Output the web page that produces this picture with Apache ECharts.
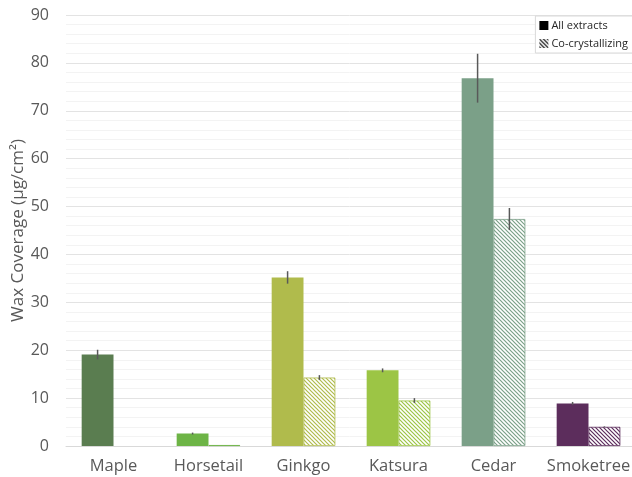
<!DOCTYPE html>
<html>
<head>
<meta charset="utf-8">
<script src="https://cdn.jsdelivr.net/npm/echarts@6/dist/echarts.min.js"></script>
<style>
  html, body { margin: 0; padding: 0; background: #ffffff; }
  #chart { width: 632px; height: 477px; }
</style>
</head>
<body>
<div id="chart"></div>
<script>
// Wax coverage per species: total extracts vs. co-crystallizing fraction
const categories = ['Maple', 'Horsetail', 'Ginkgo', 'Katsura', 'Cedar', 'Smoketree'];
const allExtracts = [19.1, 2.6, 35.2, 15.8, 76.8, 8.9];
const allErr = [1.0, 0.2, 1.3, 0.4, 5.1, 0.3];
const coCrystal = [0, 0.2, 14.3, 9.5, 47.4, 4.0];
const coErr = [0, 0, 0.5, 0.5, 2.3, 0.1];
const speciesColors = ['#5a7d50', '#6db446', '#b0bb4c', '#9cc545', '#7ba088', '#5c2d5c'];
const yTicks = [0, 10, 20, 30, 40, 50, 60, 70, 80, 90];

// diagonal stripe pattern ("\\\") in a given colour on white
function stripes(color) {
  const s = 4;
  const c = document.createElement('canvas');
  c.width = s; c.height = s;
  const g = c.getContext('2d');
  g.fillStyle = '#ffffff';
  g.fillRect(0, 0, s, s);
  g.strokeStyle = color;
  g.lineWidth = 1.2;
  g.beginPath();
  g.moveTo(-1, -1); g.lineTo(s + 1, s + 1);
  g.moveTo(-1, s - 1); g.lineTo(1, s + 1);
  g.moveTo(s - 1, -1); g.lineTo(s + 1, 1);
  g.stroke();
  return { image: c, repeat: 'repeat' };
}

const font = '"Open Sans", "DejaVu Sans", sans-serif';

function errorSeries(values, errs, offsetIdx) {
  return {
    type: 'custom',
    z: 10,
    silent: true,
    data: values.map((v, i) => [i, v, errs[i]]),
    renderItem: function (params, api) {
      const i = api.value(0);
      const v = api.value(1);
      const e = api.value(2);
      if (!e) return null;
      const band = api.size([1, 0])[0];
      const barW = band * 0.335;
      const cx = api.coord([i, v])[0] + (offsetIdx === 0 ? -barW / 2 : barW / 2);
      const top = api.coord([i, v + e])[1];
      const bot = api.coord([i, v - e])[1];
      return {
        type: 'line',
        shape: { x1: cx, y1: top, x2: cx, y2: bot },
        style: { stroke: '#595959', lineWidth: 1.5 }
      };
    }
  };
}

const chart = echarts.init(document.getElementById('chart'), null, { renderer: 'canvas' });
chart.setOption({
  animation: false,
  backgroundColor: '#ffffff',
  grid: { left: 66, top: 15, width: 570, bottom: 31, containLabel: false, outerBoundsMode: 'none' },
  legend: {
    right: -2, top: 16,
    orient: 'vertical',
    backgroundColor: '#ffffff',
    borderColor: '#d9d9d9',
    borderWidth: 1,
    padding: [4, 6, 4, 4],
    itemGap: 7,
    itemWidth: 9, itemHeight: 9,
    textStyle: { fontFamily: font, fontSize: 11, color: '#262626', padding: [0, 0, 0, -2] },
    data: [
      { name: 'All extracts', icon: 'rect' },
      { name: 'Co-crystallizing', icon: 'rect' }
    ]
  },
  xAxis: {
    type: 'category',
    data: categories,
    axisLine: { lineStyle: { color: '#d9d9d9', width: 1 } },
    axisTick: { show: false },
    axisLabel: { interval: 0, fontFamily: font, fontSize: 16.5, color: '#595959', margin: 12 }
  },
  yAxis: {
    type: 'value',
    min: 0, max: 90, interval: 10,
    name: 'Wax Coverage (µg/cm²)',
    nameLocation: 'middle',
    nameGap: 39,
    nameMoveOverlap: false,
    nameTextStyle: { fontFamily: font, fontSize: 17, color: '#595959' },
    axisLine: { show: false },
    axisTick: { show: false },
    axisLabel: {
      fontFamily: font, fontSize: 16, color: '#595959', margin: 17,
      formatter: v => (yTicks.indexOf(v) >= 0 ? String(v) : '')
    },
    splitLine: { lineStyle: { color: '#e3e3e3', width: 1 } },
    minorTick: { show: false, splitNumber: 5 },
    minorSplitLine: { show: true, lineStyle: { color: '#f3f3f3', width: 1 } }
  },
  series: [
    {
      name: 'All extracts',
      type: 'bar',
      barGap: '0%',
      barCategoryGap: '33%',
      itemStyle: { color: '#000000' },
      data: allExtracts.map((v, i) => ({
        value: v,
        itemStyle: { color: speciesColors[i] }
      }))
    },
    {
      name: 'Co-crystallizing',
      type: 'bar',
      itemStyle: { color: stripes('#000000') },
      data: coCrystal.map((v, i) => ({
        value: v,
        itemStyle: {
          color: stripes(speciesColors[i]),
          borderColor: speciesColors[i],
          borderWidth: v > 0 ? 0.8 : 0
        }
      }))
    },
    errorSeries(allExtracts, allErr, 0),
    errorSeries(coCrystal, coErr, 1)
  ]
});
</script>
</body>
</html>
